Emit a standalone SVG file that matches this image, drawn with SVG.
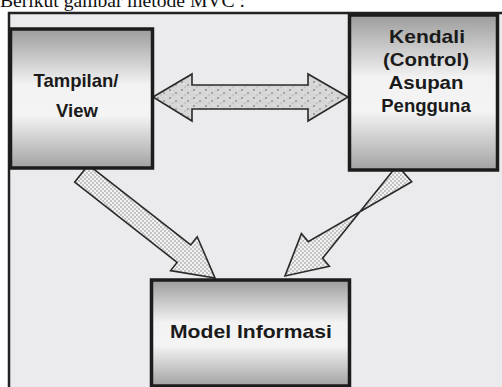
<svg xmlns="http://www.w3.org/2000/svg" width="502" height="387" viewBox="0 0 502 387">
  <style>
    .box { stroke: #1c1c1c; stroke-width: 3.5; fill: url(#boxGrad); }
    .lbl { font-family: "Liberation Sans", Arial, sans-serif; font-weight: bold; font-size: 18.5px; fill: #1a1a1a; text-anchor: middle; }
    .rl { font-size: 19px; }
    .arrow { stroke: #2a2a2a; stroke-width: 1.6; stroke-linejoin: miter; }
    .diag { fill: url(#checker); }
    .dbl { fill: url(#speckle); }
  </style>
  <defs>
    <linearGradient id="boxGrad" x1="0" y1="0" x2="0" y2="1">
      <stop offset="0" stop-color="#9c9c9c"/>
      <stop offset="0.4" stop-color="#f2f2f2"/>
      <stop offset="0.62" stop-color="#f4f4f4"/>
      <stop offset="1" stop-color="#a2a2a2"/>
    </linearGradient>
    <pattern id="checker" width="4" height="4" patternUnits="userSpaceOnUse">
      <rect width="4" height="4" fill="#c4c4c4"/>
      <rect x="0" y="0" width="2" height="2" fill="#f2f2f2"/>
      <rect x="2" y="2" width="2" height="2" fill="#f2f2f2"/>
    </pattern>
    <pattern id="speckle" width="12" height="8" patternUnits="userSpaceOnUse">
      <rect width="12" height="8" fill="#d6d6d6"/>
      <circle cx="2" cy="2" r="0.9" fill="#888"/>
      <circle cx="8" cy="5" r="1" fill="#999"/>
      <circle cx="5" cy="7" r="0.7" fill="#aaa"/>
      <circle cx="10" cy="1" r="0.7" fill="#eee"/>
      <circle cx="4" cy="4" r="0.8" fill="#f0f0f0"/>
    </pattern>
  </defs>

  <rect x="0" y="0" width="502" height="387" fill="#ffffff"/>
  <text x="0" y="7" font-family="'Liberation Serif', 'Times New Roman', serif" font-size="19.6" fill="#111">Berikut gambar metode MVC :</text>

  <rect x="9" y="13" width="498" height="380" fill="#ebebee" stroke="#222" stroke-width="2.5"/>

  <g id="connectors">
    <polygon class="arrow dbl" points="153,97 192,74 192,85 308,85 308,74 348,97 308,121 308,109 192,109 192,121"/>
    <polygon class="arrow diag" points="88.3,164.8 190.7,245 197.2,236.8 215,278 170.6,270.6 177.1,262.4 74.7,182.2"/>
    <polygon class="arrow diag" points="411.7,181.8 308.2,241.6 301.4,233.6 285,276 329.4,266.2 322.6,258.2 397.3,165.2"/>
  </g>

  <g id="view">
    <rect class="box" x="10.5" y="29" width="142" height="139"/>
    <text class="lbl" x="76" y="87">Tampilan/</text>
    <text class="lbl" x="77" y="117">View</text>
  </g>

  <g id="control">
    <rect class="box" x="349.5" y="15" width="148" height="155"/>
    <text class="lbl rl" x="427" y="43" textLength="76" lengthAdjust="spacingAndGlyphs">Kendali</text>
    <text class="lbl rl" x="426" y="66" textLength="86" lengthAdjust="spacingAndGlyphs">(Control)</text>
    <text class="lbl rl" x="426" y="89" textLength="75" lengthAdjust="spacingAndGlyphs">Asupan</text>
    <text class="lbl" x="426" y="112">Pengguna</text>
  </g>

  <g id="model">
    <rect class="box" x="151.5" y="280" width="198" height="106"/>
    <text class="lbl" x="251" y="338" textLength="162" lengthAdjust="spacingAndGlyphs">Model Informasi</text>
  </g>
</svg>
